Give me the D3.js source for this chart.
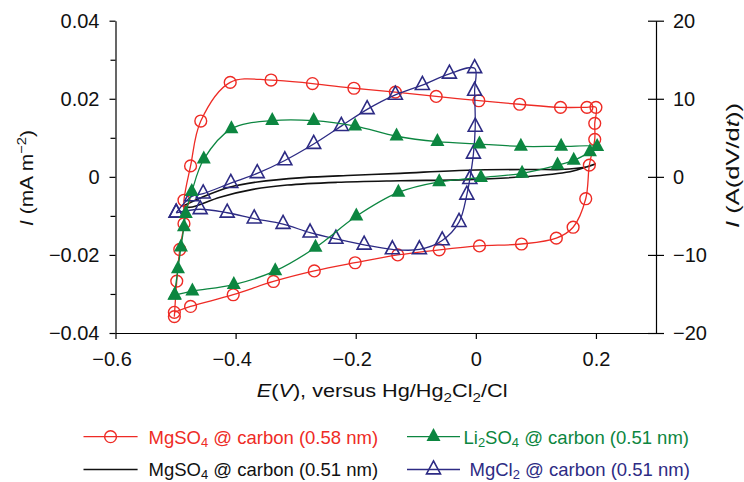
<!DOCTYPE html>
<html><head><meta charset="utf-8">
<script src="https://cdn.jsdelivr.net/npm/d3@7"></script>
<style>
html,body{margin:0;padding:0;background:#fff;}
svg{display:block;font-family:"Liberation Sans",Arial,Helvetica,sans-serif;}
</style></head><body>
<svg id="chart" width="744" height="482"></svg>
<script>
// ---------- data ----------
const xTicks = [-0.6, -0.4, -0.2, 0, 0.2];
const yLeftTicks = [-0.04, -0.02, 0, 0.02, 0.04];
const yLeftMinor = [-0.03, -0.01, 0.01, 0.03];
const yRightTicks = [-20, -10, 0, 10, 20];

// MgSO4 @ carbon (0.58 nm)
const redE = [-0.502, -0.498, -0.493, -0.486, -0.486, -0.475, -0.458, -0.409, -0.341, -0.272, -0.203, -0.134, -0.066, 0.005, 0.073, 0.141, 0.185, 0.200, 0.198, 0.198, 0.189, 0.183, 0.162, 0.134, 0.076, 0.006, -0.061, -0.130, -0.201, -0.269, -0.337, -0.404, -0.475, -0.502];
const redI = [-0.0358, -0.0267, -0.0186, -0.0120, -0.0060, 0.0028, 0.0143, 0.0242, 0.0248, 0.0239, 0.0227, 0.0217, 0.0206, 0.0195, 0.0186, 0.0178, 0.0178, 0.0178, 0.0137, 0.0096, 0.0030, -0.0056, -0.0129, -0.0157, -0.0172, -0.0177, -0.0187, -0.0200, -0.0220, -0.0241, -0.0268, -0.0302, -0.0332, -0.0347];

// Li2SO4 @ carbon (0.51 nm)
const greenE = [-0.502, -0.496, -0.491, -0.486, -0.483, -0.473, -0.453, -0.407, -0.339, -0.270, -0.201, -0.132, -0.064, 0.006, 0.075, 0.142, 0.202, 0.190, 0.163, 0.136, 0.077, 0.0085, -0.061, -0.129, -0.199, -0.267, -0.334, -0.403, -0.472, -0.501];
const greenI = [-0.0304, -0.0236, -0.0180, -0.0128, -0.0094, -0.0038, 0.0045, 0.0123, 0.0144, 0.0144, 0.0130, 0.0104, 0.0090, 0.0084, 0.0078, 0.0078, 0.0077, 0.0064, 0.0042, 0.0030, 0.0009, -0.0002, -0.0013, -0.0040, -0.0101, -0.0181, -0.0241, -0.0276, -0.0293, -0.0303];

// MgSO4 @ carbon (0.51 nm)
const blackE = [-0.488, -0.476, -0.426, -0.371, -0.314, -0.231, -0.126, -0.014, 0.096, 0.162, 0.199, 0.186, 0.141, 0.096, -0.014, -0.126, -0.204, -0.288, -0.364, -0.409, -0.454, -0.488];
const blackI = [-0.0075, -0.0078, -0.0052, -0.0032, -0.0021, -0.0014, -0.0010, -0.0007, 0.0002, 0.0015, 0.0033, 0.0026, 0.0019, 0.0019, 0.0017, 0.0009, 0.0004, -0.0002, -0.0013, -0.0026, -0.0051, -0.0075];

// MgCl2 @ carbon (0.51 nm)
const blueE = [-0.499, -0.473, -0.454, -0.408, -0.364, -0.318, -0.270, -0.224, -0.181, -0.134, -0.089, -0.044, -0.002, -0.002, -0.001, -0.004, -0.010, -0.015, -0.028, -0.056, -0.094, -0.139, -0.186, -0.233, -0.276, -0.321, -0.369, -0.414, -0.459, -0.499];
const blueI = [-0.0092, -0.0050, -0.0043, -0.0016, 0.0009, 0.0042, 0.0084, 0.0130, 0.0173, 0.0210, 0.0235, 0.0264, 0.0278, 0.0220, 0.0128, 0.0059, -0.0006, -0.0046, -0.0116, -0.0163, -0.0186, -0.0186, -0.0174, -0.0159, -0.0143, -0.0121, -0.0107, -0.0092, -0.0083, -0.0092];

// legend labels (text parts: [text, style])
const labelRed = [["MgSO", ""], ["4", "sub"], [" @ carbon (0.58 nm)", ""]];
const labelGreen = [["Li", ""], ["2", "sub"], ["SO", ""], ["4", "sub"], [" @ carbon (0.51 nm)", ""]];
const labelBlack = [["MgSO", ""], ["4", "sub"], [" @ carbon (0.51 nm)", ""]];
const labelBlue = [["MgCl", ""], ["2", "sub"], [" @ carbon (0.51 nm)", ""]];

const xTitle = [["E", "it"], ["(", ""], ["V", "it"], ["), versus Hg/Hg", ""], ["2", "sub"], ["Cl", ""], ["2", "sub"], ["/Cl", ""]];
const yTitle = [["I", "it"], [" (mA m", ""], ["\u22122", "sup"], [")", ""]];
const y2Title = [["I", "it"], [" (A(dV/d", ""], ["t", "it"], ["))", ""]];

// ---------- layout ----------
const RED = "#ee2b25", GREEN = "#0c8640", NAVY = "#2d2b84", BLACK = "#111";
const svg = d3.select("#chart");
const x = d3.scaleLinear().domain([-0.6, 0.3]).range([115.5, 656]);
const y = d3.scaleLinear().domain([-0.04, 0.04]).range([333, 20.7]);
const y2 = d3.scaleLinear().domain([-20, 20]).range([333, 20.7]);
const fmt = d => d === 0 ? "0" : (d < 0 ? "\u2212" : "") + String(Math.abs(d));

function styleAxis(g) {
  g.attr("font-family", null).attr("font-size", null);
  g.selectAll("path.domain").attr("stroke", "#000").attr("stroke-width", 1.2);
  g.selectAll(".tick line").attr("stroke", "#000").attr("stroke-width", 1.2);
  g.selectAll(".tick text").attr("font-size", 20).attr("fill", "#111");
}

// bottom axis
const gx = svg.append("g").attr("transform", "translate(0,333)")
  .call(d3.axisBottom(x).tickValues(xTicks).tickSize(6).tickSizeOuter(0).tickPadding(12.5).tickFormat(fmt))
  .call(styleAxis);
gx.selectAll(".tick text").attr("dx", d => d < 0 ? -4 : 0);

// left axis
svg.append("g").attr("transform", "translate(115.5,0)")
  .call(d3.axisLeft(y).tickValues(yLeftTicks).tickSize(6).tickSizeOuter(0).tickPadding(10).tickFormat(fmt))
  .call(styleAxis);
svg.append("g").attr("transform", "translate(115.5,0)")
  .call(d3.axisLeft(y).tickValues(yLeftMinor).tickSize(5).tickSizeOuter(0).tickFormat(""))
  .call(styleAxis)
  .call(g => g.select("path.domain").remove());

// right axis
const gr = svg.append("g").attr("transform", "translate(656,0)")
  .call(d3.axisRight(y2).tickValues(yRightTicks).tickSize(8).tickSizeOuter(0).tickPadding(9).tickFormat(fmt))
  .call(styleAxis);
gr.selectAll(".tick line").attr("x1", -8);

// ---------- rich text helper ----------
function richText(g, parts, size, subK) {
  const t = g.append("text").attr("font-size", size);
  const shift = size * (subK || 0.28), supShift = size * 0.38;
  let cur = 0;
  parts.forEach(([txt, st]) => {
    const sp = t.append("tspan").text(txt);
    let target = 0;
    if (st === "sub") { sp.attr("font-size", size * 0.7); target = shift; }
    else if (st === "sup") { sp.attr("font-size", size * 0.7); target = -supShift; }
    if (st === "it") sp.attr("font-style", "italic");
    const d = target - cur;
    if (d !== 0) sp.attr("dy", d);
    cur = target;
  });
  return t;
}

// ---------- axis titles ----------
(function () {
  const g = svg.append("g");
  const t = richText(g, xTitle, 18.5).attr("fill", "#111");
  const w = t.node().getBBox().width;
  g.attr("transform", `translate(256.7,397) scale(${251 / w},1)`);
})();
(function () {
  const g = svg.append("g");
  const t = richText(g, yTitle, 18.5).attr("fill", "#111");
  const w = t.node().getBBox().width;
  g.attr("transform", `translate(33,226) rotate(-90) scale(${96 / w},1)`);
})();
(function () {
  const g = svg.append("g");
  const t = richText(g, y2Title, 18.5).attr("fill", "#111");
  const w = t.node().getBBox().width;
  g.attr("transform", `translate(739,228) rotate(-90) scale(${125 / w},1)`);
})();

// ---------- series ----------
const line = d3.line().x(d => x(d[0])).y(d => y(d[1])).curve(d3.curveCatmullRom.alpha(0.5));
const triPath = (w, h) => `M0,${-2 * h / 3}L${w / 2},${h / 3}L${-w / 2},${h / 3}Z`;

const series = [
  { E: blackE, I: blackI, color: BLACK, marker: null, label: labelBlack },
  { E: redE, I: redI, color: RED, marker: "circle", label: labelRed },
  { E: blueE, I: blueI, color: NAVY, marker: "openTri", label: labelBlue },
  { E: greenE, I: greenI, color: GREEN, marker: "fillTri", label: labelGreen }
];

function drawMarker(g, type, color) {
  if (type === "circle") {
    g.append("circle").attr("r", 5.9).attr("fill", "none").attr("stroke", color).attr("stroke-width", 1.4);
  } else if (type === "openTri") {
    g.append("path").attr("d", triPath(14, 13)).attr("fill", "none").attr("stroke", color).attr("stroke-width", 1.6).attr("stroke-linejoin", "miter");
  } else if (type === "fillTri") {
    g.append("path").attr("d", triPath(14, 13)).attr("fill", color).attr("stroke", "none");
  }
}

series.forEach(s => {
  const pts = d3.zip(s.E, s.I);
  const g = svg.append("g");
  if (s.marker === null) {
    g.append("path").attr("d", line(pts)).attr("fill", "none").attr("stroke", s.color).attr("stroke-width", 1.6);
  } else {
    g.append("path").attr("d", line(pts)).attr("fill", "none").attr("stroke", s.color).attr("stroke-width", 1.3);
    pts.forEach(p => {
      const mg = g.append("g").attr("transform", `translate(${x(p[0])},${y(p[1])})`);
      drawMarker(mg, s.marker, s.color);
    });
  }
});

// ---------- legend ----------
const legendLayout = [
  { s: series[1], x0: 83.5, x1: 137.6, tx: 148.5, cy: 436.7, by: 443.5 },
  { s: series[3], x0: 407, x1: 460, tx: 463.5, cy: 436.7, by: 443.5 },
  { s: series[0], x0: 83.5, x1: 137.6, tx: 148.5, cy: 469.5, by: 475.5 },
  { s: series[2], x0: 407, x1: 460, tx: 469.5, cy: 469.5, by: 475.5 }
];
legendLayout.forEach(L => {
  const g = svg.append("g");
  g.append("line").attr("x1", L.x0).attr("x2", L.x1).attr("y1", L.cy).attr("y2", L.cy)
    .attr("stroke", L.s.color).attr("stroke-width", L.s.marker ? 1.3 : 1.6);
  if (L.s.marker) {
    const mg = g.append("g").attr("transform", `translate(${(L.x0 + L.x1) / 2},${L.cy})`);
    drawMarker(mg, L.s.marker, L.s.color);
  }
  const tg = g.append("g").attr("transform", `translate(${L.tx},${L.by})`);
  richText(tg, L.s.label, 18.5, 0.2).attr("fill", L.s.color);
});
</script>
</body></html>
